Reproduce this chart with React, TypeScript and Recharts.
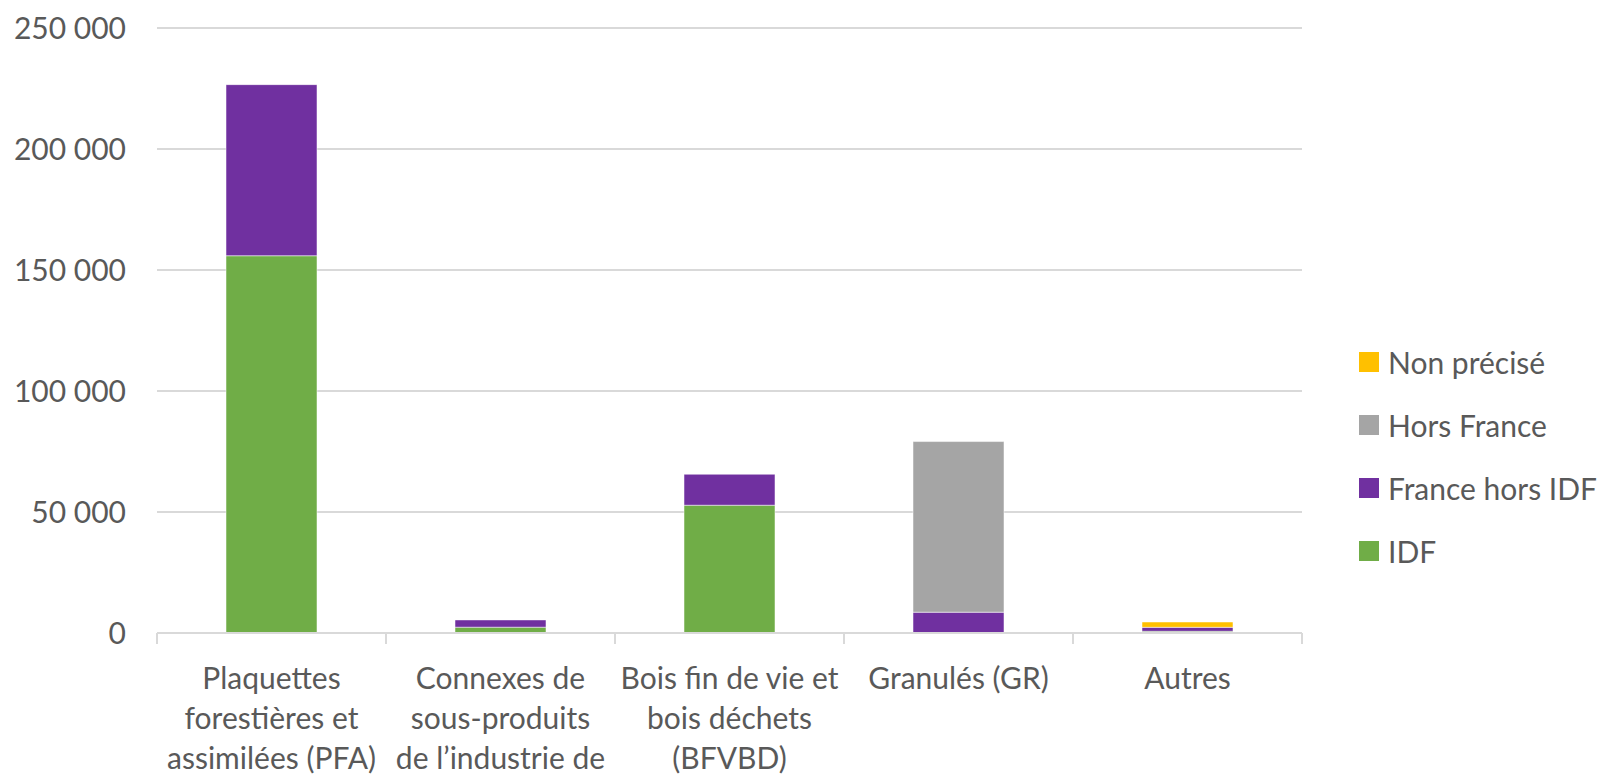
import { Bar, BarChart, CartesianGrid, Legend, XAxis, YAxis } from "recharts";

// Origine des combustibles bois par type (tonnes)
const categories = [
  "Plaquettes\nforestières et\nassimilées (PFA)",
  "Connexes de\nsous-produits\nde l’industrie de",
  "Bois fin de vie et\nbois déchets\n(BFVBD)",
  "Granulés (GR)",
  "Autres",
];

const idf = [155900, 2400, 52800, 0, 700];
const franceHorsIdf = [70700, 3000, 12800, 8600, 1650];
const horsFrance = [0, 0, 0, 70500, 0];
const nonPrecise = [0, 0, 0, 0, 2200];

const yTicks = [0, 50000, 100000, 150000, 200000, 250000];

const series = [
  { key: "idf", name: "IDF", color: "#70AD47", values: idf },
  { key: "franceHorsIdf", name: "France hors IDF", color: "#7030A0", values: franceHorsIdf },
  { key: "horsFrance", name: "Hors France", color: "#A5A5A5", values: horsFrance },
  { key: "nonPrecise", name: "Non précisé", color: "#FFC000", values: nonPrecise },
];

const data = categories.map((category, i) => {
  const row: Record<string, string | number> = { category };
  series.forEach((s) => {
    row[s.key] = s.values[i];
  });
  return row;
});

const FONT = "Lato, 'Noto Sans', sans-serif";
const TEXT = "#595959";
const GRID = "#D9D9D9";

const formatThousands = (v: number) =>
  String(v).replace(/\B(?=(\d{3})+(?!\d))/g, " ");

// Category label split over several lines, plus Excel-style tick marks
// on the boundaries between categories rather than at their centres.
function CategoryTick({ x, y, payload, width, index, visibleTicksCount }: any) {
  const lines = String(payload.value).split("\n");
  const half = width / visibleTicksCount / 2;
  const axisY = y - 2;
  const edges = [x - half];
  if (index === visibleTicksCount - 1) edges.push(x + half);
  return (
    <g>
      {edges.map((ex, i) => (
        <line
          key={`edge-${i}`}
          x1={ex}
          x2={ex}
          y1={axisY}
          y2={axisY + 11}
          stroke={GRID}
          strokeWidth={2}
        />
      ))}
      {lines.map((line, i) => (
        <text
          key={i}
          x={x}
          y={axisY + 55.5 + i * 40}
          textAnchor="middle"
          fill={TEXT}
          fontSize={30}
          fontFamily={FONT}
        >
          {line}
        </text>
      ))}
    </g>
  );
}

function LegendContent({ payload }: any) {
  // Top-to-bottom order matches the stack, highest segment first
  const order = series.map((s) => s.name).reverse();
  const items = [...(payload ?? [])].sort(
    (a: any, b: any) => order.indexOf(a.value) - order.indexOf(b.value)
  );
  return (
    <div style={{ fontFamily: FONT, fontSize: 30, color: TEXT }}>
      {items.map((item: any) => (
        <div
          key={item.value}
          style={{ display: "flex", alignItems: "center", height: 63, whiteSpace: "nowrap" }}
        >
          <span
            style={{
              display: "inline-block",
              width: 20,
              height: 20,
              background: item.color,
              marginRight: 9,
            }}
          />
          <span>{item.value}</span>
        </div>
      ))}
    </div>
  );
}

export default function App() {
  return (
    <div style={{ width: 1604, height: 775, background: "#fff" }}>
      <style>{"body{margin:0}"}</style>
      <BarChart
        width={1604}
        height={775}
        data={data}
        margin={{ top: 28, right: 302, bottom: 0, left: 0 }}
        barSize={91}
      >
        <CartesianGrid vertical={false} stroke={GRID} strokeWidth={2} />
        <XAxis
          dataKey="category"
          interval={0}
          tickLine={false}
          tickSize={0}
          tickMargin={2}
          axisLine={{ stroke: GRID, strokeWidth: 2 }}
          tick={<CategoryTick />}
          height={142}
        />
        <YAxis
          width={157}
          domain={[0, 250000]}
          ticks={yTicks}
          tickFormatter={formatThousands}
          axisLine={false}
          tickLine={false}
          tickSize={0}
          tickMargin={31}
          tick={{ fill: TEXT, fontSize: 30, fontFamily: FONT }}
        />
        {series.map((s) => (
          <Bar
            key={s.key}
            dataKey={s.key}
            name={s.name}
            stackId="total"
            fill={s.color}
            stroke="#ffffff"
            strokeOpacity={0.5}
            strokeWidth={1}
            isAnimationActive={false}
          />
        ))}
        <Legend
          layout="vertical"
          align="center"
          verticalAlign="middle"
          wrapperStyle={{ left: 1359, top: 330, width: 245 }}
          content={<LegendContent />}
        />
      </BarChart>
    </div>
  );
}
